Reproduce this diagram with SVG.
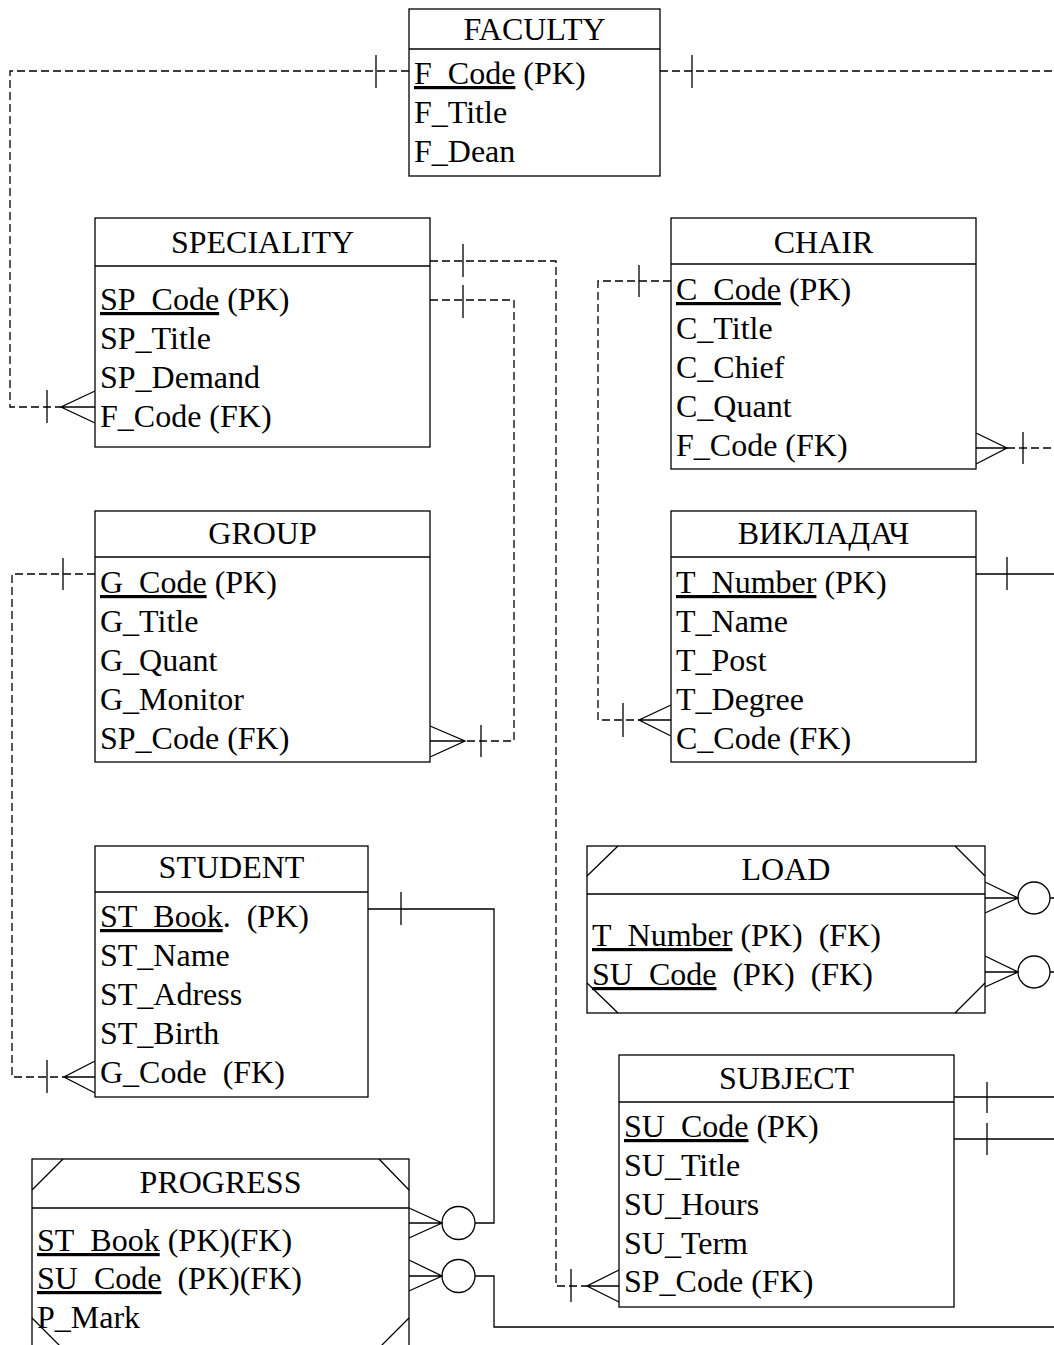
<svg xmlns="http://www.w3.org/2000/svg" width="1054" height="1345" viewBox="0 0 1054 1345">
<style>
.box{fill:#fff;stroke:#000;stroke-width:1.3}
.ln{fill:none;stroke:#000;stroke-width:1.3}
.ds{fill:none;stroke:#000;stroke-width:1.3;stroke-dasharray:8 4}
.t{font-family:"Liberation Serif","Times New Roman",serif;font-size:32px;fill:#000;white-space:pre}
.ttl{text-anchor:middle}
.u{text-decoration:underline}
</style>
<rect width="1054" height="1345" fill="#fff"/>
<g id="connectors">
  <!-- FACULTY - SPECIALITY -->
  <path class="ds" d="M409,71 H10 V407 H61"/>
  <path class="ln" d="M376,55 V88 M47,390 V423 M95,391 L61,407 L95,423 M61,407 H95"/>
  <!-- FACULTY - CHAIR -->
  <path class="ds" d="M660,71 H1054"/>
  <path class="ln" d="M692,55 V88"/>
  <path class="ds" d="M1007,448 H1054"/>
  <path class="ln" d="M1023,432 V464 M976,433 L1007,448 L976,464 M976,448 H1007"/>
  <!-- SPECIALITY - GROUP -->
  <path class="ds" d="M430,300 H514 V741 H465"/>
  <path class="ln" d="M463,285 V318 M481,725 V757 M430,726 L465,741 L430,757 M430,741 H465"/>
  <!-- SPECIALITY - SUBJECT -->
  <path class="ds" d="M430,261 H556 V1286 H587"/>
  <path class="ln" d="M463,244 V277 M571,1269 V1302 M619,1270 L587,1286 L619,1302 M587,1286 H619"/>
  <!-- CHAIR - VYKLADACH -->
  <path class="ds" d="M671,281 H598 V720 H639"/>
  <path class="ln" d="M639,265 V297 M623,703 V737 M671,705 L639,720 L671,736 M639,720 H671"/>
  <!-- GROUP - STUDENT -->
  <path class="ds" d="M95,574 H12 V1077 H64"/>
  <path class="ln" d="M63,558 V590 M47,1060 V1093 M95,1061 L64,1077 L95,1093 M64,1077 H95"/>
  <!-- VYKLADACH - LOAD -->
  <path class="ln" d="M976,574 H1054 M1007,557 V590"/>
  <path class="ln" d="M985,882 L1018,898 L985,913 M985,898 H1018 M1050,898 H1054"/>
  <circle class="ln" cx="1034" cy="898" r="16"/>
  <!-- SUBJECT - LOAD -->
  <path class="ln" d="M954,1097 H1054 M987,1082 V1113 M954,1139 H1054 M987,1123 V1155"/>
  <path class="ln" d="M985,956 L1018,972 L985,987 M985,972 H1018 M1050,972 H1054"/>
  <circle class="ln" cx="1034" cy="972" r="16"/>
  <!-- STUDENT - PROGRESS -->
  <path class="ln" d="M368,909 H494 V1223 H475 M401,892 V925"/>
  <path class="ln" d="M409,1208 L442,1223 L409,1238 M409,1223 H442"/>
  <circle class="ln" cx="458.5" cy="1223" r="16.5"/>
  <!-- SUBJECT - PROGRESS -->
  <path class="ln" d="M475,1276 H494 V1327 H1054"/>
  <path class="ln" d="M409,1260 L442,1276 L409,1291 M409,1276 H442"/>
  <circle class="ln" cx="458.5" cy="1276" r="16.5"/>
</g>
<g id="faculty">
  <rect class="box" x="409" y="9" width="251" height="167"/>
  <path class="ln" d="M409,49 H660"/>
  <text class="t ttl" x="534.5" y="40">FACULTY</text>
  <text class="t" x="414" y="84"><tspan class="u">F_Code</tspan> (PK)</text>
  <text class="t" x="414" y="123">F_Title</text>
  <text class="t" x="414" y="162">F_Dean</text>
</g>
<g id="speciality">
  <rect class="box" x="95" y="218" width="335" height="229"/>
  <path class="ln" d="M95,266 H430"/>
  <text class="t ttl" x="262.5" y="253">SPECIALITY</text>
  <text class="t" x="100" y="310"><tspan class="u">SP_Code</tspan> (PK)</text>
  <text class="t" x="100" y="349">SP_Title</text>
  <text class="t" x="100" y="388">SP_Demand</text>
  <text class="t" x="100" y="427">F_Code (FK)</text>
</g>
<g id="chair">
  <rect class="box" x="671" y="218" width="305" height="251"/>
  <path class="ln" d="M671,264 H976"/>
  <text class="t ttl" x="823.5" y="253">CHAIR</text>
  <text class="t" x="676" y="300"><tspan class="u">C_Code</tspan> (PK)</text>
  <text class="t" x="676" y="339">C_Title</text>
  <text class="t" x="676" y="378">C_Chief</text>
  <text class="t" x="676" y="417">C_Quant</text>
  <text class="t" x="676" y="456">F_Code (FK)</text>
</g>
<g id="group">
  <rect class="box" x="95" y="511" width="335" height="251"/>
  <path class="ln" d="M95,557 H430"/>
  <text class="t ttl" x="262.5" y="544">GROUP</text>
  <text class="t" x="100" y="593"><tspan class="u">G_Code</tspan> (PK)</text>
  <text class="t" x="100" y="632">G_Title</text>
  <text class="t" x="100" y="671">G_Quant</text>
  <text class="t" x="100" y="710">G_Monitor</text>
  <text class="t" x="100" y="749">SP_Code (FK)</text>
</g>
<g id="vykladach">
  <rect class="box" x="671" y="511" width="305" height="251"/>
  <path class="ln" d="M671,557 H976"/>
  <text class="t ttl" x="823.5" y="544">ВИКЛАДАЧ</text>
  <text class="t" x="676" y="593"><tspan class="u">T_Number</tspan> (PK)</text>
  <text class="t" x="676" y="632">T_Name</text>
  <text class="t" x="676" y="671">T_Post</text>
  <text class="t" x="676" y="710">T_Degree</text>
  <text class="t" x="676" y="749">C_Code (FK)</text>
</g>
<g id="student">
  <rect class="box" x="95" y="846" width="273" height="251"/>
  <path class="ln" d="M95,892 H368"/>
  <text class="t ttl" x="231.5" y="878">STUDENT</text>
  <text class="t" x="100" y="927"><tspan class="u">ST_Book</tspan>.  (PK)</text>
  <text class="t" x="100" y="966">ST_Name</text>
  <text class="t" x="100" y="1005">ST_Adress</text>
  <text class="t" x="100" y="1044">ST_Birth</text>
  <text class="t" x="100" y="1083">G_Code  (FK)</text>
</g>
<g id="load">
  <rect class="box" x="587" y="846" width="398" height="167"/>
  <path class="ln" d="M587,894 H985 M587,876 L618,846 M955,846 L985,876 M587,983 L618,1013 M955,1013 L985,983"/>
  <text class="t ttl" x="786" y="880">LOAD</text>
  <text class="t" x="592" y="946"><tspan class="u">T_Number</tspan> (PK)  (FK)</text>
  <text class="t" x="592" y="985"><tspan class="u">SU_Code</tspan>  (PK)  (FK)</text>
</g>
<g id="subject">
  <rect class="box" x="619" y="1055" width="335" height="252"/>
  <path class="ln" d="M619,1102 H954"/>
  <text class="t ttl" x="786.5" y="1089">SUBJECT</text>
  <text class="t" x="624" y="1137"><tspan class="u">SU_Code</tspan> (PK)</text>
  <text class="t" x="624" y="1176">SU_Title</text>
  <text class="t" x="624" y="1215">SU_Hours</text>
  <text class="t" x="624" y="1254">SU_Term</text>
  <text class="t" x="624" y="1292">SP_Code (FK)</text>
</g>
<g id="progress">
  <rect class="box" x="32" y="1159" width="377" height="191"/>
  <path class="ln" d="M32,1208 H409 M32,1190 L63,1159 M379,1159 L409,1190 M32,1318 L63,1349 M409,1318 L378,1349"/>
  <text class="t ttl" x="220.5" y="1193">PROGRESS</text>
  <text class="t" x="37" y="1251"><tspan class="u">ST_Book</tspan> (PK)(FK)</text>
  <text class="t" x="37" y="1289"><tspan class="u">SU_Code</tspan>  (PK)(FK)</text>
  <text class="t" x="37" y="1328">P_Mark</text>
</g>
</svg>
